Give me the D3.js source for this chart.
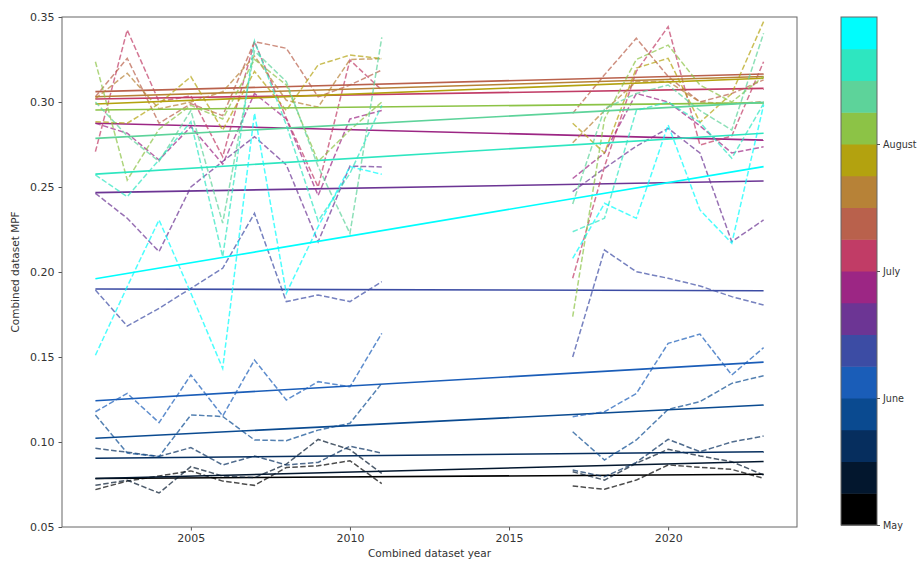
<!DOCTYPE html>
<html>
<head>
<meta charset="utf-8">
<script src="https://cdn.jsdelivr.net/npm/d3@7"></script>
<style>
  body { margin: 0; background: #fff; }
  text { font-family: "DejaVu Sans", sans-serif; }
</style>
</head>
<body>
<svg id="chart" width="917" height="561"></svg>
<script>
// years of the two survey periods
const yearsEarly = [2002, 2003, 2004, 2005, 2006, 2007, 2008, 2009, 2010, 2011];
const yearsLate = [2017, 2018, 2019, 2020, 2021, 2022, 2023];

// one colour per week bin, May (black) to end of August (cyan)
const weekColors = ['#000000', '#03172e', '#062e5e', '#0a4a90', '#1a5db8', '#3c4ca4',
  '#6c3594', '#9c2684', '#c13c66', '#b9614c', '#b78237', '#b3a20f',
  '#8cc346', '#5dd39a', '#2ee6c0', '#00fdfd'];

// MPF per week bin, 2002-2011
const earlyMPF = [
  [0.0720, 0.0770, 0.0800, 0.0830, 0.0770, 0.0745, 0.0850, 0.0860, 0.0890, 0.0755],
  [0.0745, 0.0775, 0.0700, 0.0855, 0.0800, 0.0790, 0.0870, 0.1015, 0.0955, 0.0815],
  [0.0963, 0.0940, 0.0915, 0.0967, 0.0865, 0.0918, 0.0865, 0.0880, 0.0975, 0.0935],
  [0.1159, 0.0935, 0.0914, 0.1159, 0.1150, 0.1012, 0.1008, 0.1070, 0.1110, 0.1345],
  [0.1178, 0.1286, 0.1114, 0.1394, 0.1153, 0.1482, 0.1247, 0.1355, 0.1325, 0.1639],
  [0.1894, 0.1682, 0.1786, 0.1904, 0.2022, 0.2345, 0.1826, 0.1865, 0.1826, 0.1943],
  [0.2463, 0.2316, 0.2120, 0.2500, 0.2650, 0.2796, 0.2630, 0.2178, 0.2623, 0.2618],
  [0.2875, 0.2816, 0.2659, 0.2855, 0.2635, 0.3050, 0.2900, 0.2450, 0.2900, 0.2950],
  [0.2708, 0.3424, 0.3002, 0.3036, 0.2678, 0.3355, 0.2905, 0.2500, 0.3247, 0.3070],
  [0.3031, 0.3257, 0.2875, 0.2990, 0.2920, 0.3355, 0.3316, 0.3030, 0.3100, 0.3188],
  [0.3020, 0.3169, 0.2960, 0.3000, 0.3060, 0.3270, 0.3010, 0.2970, 0.3250, 0.3255],
  [0.2884, 0.2875, 0.2990, 0.3149, 0.2835, 0.3180, 0.2950, 0.3218, 0.3276, 0.3255],
  [0.3237, 0.2541, 0.2840, 0.2980, 0.2900, 0.3250, 0.3100, 0.2650, 0.2835, 0.3000],
  [0.3000, 0.2800, 0.2650, 0.2950, 0.2288, 0.3300, 0.3120, 0.2620, 0.2227, 0.3380],
  [0.2571, 0.2443, 0.2660, 0.2884, 0.2090, 0.3359, 0.2865, 0.2300, 0.2580, 0.2980],
  [0.1510, 0.1914, 0.2306, 0.1876, 0.1433, 0.2934, 0.1875, 0.2267, 0.2620, 0.2575]
];

// MPF per week bin, 2017-2023
const lateMPF = [
  [0.0741, 0.0722, 0.0776, 0.0865, 0.0851, 0.0839, 0.0786],
  [0.0825, 0.0776, 0.0875, 0.0957, 0.0918, 0.0884, 0.0806],
  [0.0835, 0.0796, 0.0880, 0.1016, 0.0943, 0.1000, 0.1035],
  [0.1060, 0.0894, 0.1012, 0.1192, 0.1237, 0.1345, 0.1390],
  [0.1149, 0.1178, 0.1285, 0.1580, 0.1635, 0.1394, 0.1555],
  [0.1500, 0.2129, 0.2002, 0.1963, 0.1918, 0.1855, 0.1806],
  [0.2473, 0.2610, 0.2740, 0.2845, 0.2700, 0.2178, 0.2306],
  [0.2550, 0.2700, 0.3050, 0.3000, 0.2860, 0.2700, 0.2737],
  [0.1963, 0.2620, 0.3180, 0.3443, 0.2747, 0.2800, 0.3237],
  [0.2933, 0.3160, 0.3375, 0.3150, 0.3000, 0.3050, 0.3130],
  [0.2760, 0.2950, 0.3120, 0.3120, 0.3000, 0.2990, 0.3002],
  [0.2875, 0.2700, 0.3200, 0.3257, 0.2880, 0.3050, 0.3473],
  [0.1737, 0.2900, 0.3250, 0.3335, 0.3100, 0.3000, 0.3150],
  [0.2400, 0.2960, 0.3050, 0.3100, 0.2950, 0.2835, 0.3404],
  [0.2237, 0.2316, 0.2950, 0.3000, 0.2880, 0.2669, 0.2990],
  [0.2080, 0.2404, 0.2316, 0.2865, 0.2365, 0.2169, 0.2982]
];

// linear trend per week bin, value at 2002 and at 2023
const trendStart = [0.0785, 0.0785, 0.0904, 0.1022, 0.1243, 0.1900, 0.2467, 0.2875,
  0.3018, 0.3061, 0.3031, 0.2988, 0.2953, 0.2786, 0.2576, 0.1960];
const trendEnd = [0.0810, 0.0885, 0.0943, 0.1218, 0.1470, 0.1890, 0.2535, 0.2776,
  0.3080, 0.3165, 0.3150, 0.3140, 0.2995, 0.2998, 0.2816, 0.2620];

const xTicks = [2005, 2010, 2015, 2020];
const yTicks = [0.05, 0.10, 0.15, 0.20, 0.25, 0.30, 0.35];
const colorbarTicks = [0, 4, 8, 12];
const colorbarLabels = ['May', 'June', 'July', 'August'];

const svg = d3.select('#chart');
const plot = { left: 62, right: 797, top: 17, bottom: 527 };

// matplotlib style 5% margin on x
const x = d3.scaleLinear().domain([2000.95, 2024.05]).range([plot.left, plot.right]);
const y = d3.scaleLinear().domain([0.05, 0.35]).range([plot.bottom, plot.top]);

const line = d3.line().x(d => x(d[0])).y(d => y(d[1]));

const lines = svg.append('g');
weekColors.forEach((c, i) => {
  // observed values, dashed, one segment per period
  [[yearsEarly, earlyMPF[i]], [yearsLate, lateMPF[i]]].forEach(([yrs, vals]) => {
    lines.append('path')
      .attr('d', line(yrs.map((yr, j) => [yr, vals[j]])))
      .attr('fill', 'none')
      .attr('stroke', c)
      .attr('stroke-opacity', 0.7)
      .attr('stroke-width', 1.5)
      .attr('stroke-dasharray', '5.5,2.4');
  });
  // fitted trend
  lines.append('path')
    .attr('d', line([[2002, trendStart[i]], [2023, trendEnd[i]]]))
    .attr('fill', 'none')
    .attr('stroke', c)
    .attr('stroke-width', 1.6);
});

// axes
const xAxis = svg.append('g')
  .attr('transform', `translate(0,${plot.bottom})`)
  .call(d3.axisBottom(x).tickValues(xTicks).tickFormat(d3.format('d')).tickSize(3.5).tickPadding(4));
const yAxis = svg.append('g')
  .attr('transform', `translate(${plot.left},0)`)
  .call(d3.axisLeft(y).tickValues(yTicks).tickFormat(d3.format('.2f')).tickSize(3.5).tickPadding(4));
[xAxis, yAxis].forEach(a => {
  a.select('.domain').remove();
  a.selectAll('line').attr('stroke', '#555');
  a.selectAll('text').attr('fill', '#333').style('font-size', '11px');
});

svg.append('rect')
  .attr('x', plot.left).attr('y', plot.top)
  .attr('width', plot.right - plot.left).attr('height', plot.bottom - plot.top)
  .attr('fill', 'none').attr('stroke', '#666').attr('stroke-width', 1);

svg.append('text')
  .attr('x', (plot.left + plot.right) / 2).attr('y', 557)
  .attr('text-anchor', 'middle').attr('fill', '#333').style('font-size', '10.5px')
  .text('Combined dataset year');
svg.append('text')
  .attr('transform', `translate(19,${(plot.top + plot.bottom) / 2}) rotate(-90)`)
  .attr('text-anchor', 'middle').attr('fill', '#333').style('font-size', '10.5px')
  .text('Combined dataset MPF');

// colorbar
const cb = { x: 841, w: 36, top: 17, bottom: 525 };
const cbScale = d3.scaleLinear().domain([0, weekColors.length]).range([cb.bottom, cb.top]);
const cbg = svg.append('g');
cbg.selectAll('rect.band')
  .data(weekColors)
  .join('rect')
  .attr('class', 'band')
  .attr('x', cb.x)
  .attr('y', (d, i) => cbScale(i + 1))
  .attr('width', cb.w)
  .attr('height', (d, i) => cbScale(i) - cbScale(i + 1) + 0.5)
  .attr('fill', d => d);
cbg.append('rect')
  .attr('x', cb.x).attr('y', cb.top).attr('width', cb.w).attr('height', cb.bottom - cb.top)
  .attr('fill', 'none').attr('stroke', '#666');
const cbAxis = cbg.append('g')
  .attr('transform', `translate(${cb.x + cb.w},0)`)
  .call(d3.axisRight(cbScale).tickValues(colorbarTicks)
    .tickFormat((d, i) => colorbarLabels[i]).tickSize(3).tickPadding(3));
cbAxis.select('.domain').remove();
cbAxis.selectAll('line').attr('stroke', '#555');
cbAxis.selectAll('text').attr('fill', '#333').style('font-size', '9.6px');
</script>
</body>
</html>
